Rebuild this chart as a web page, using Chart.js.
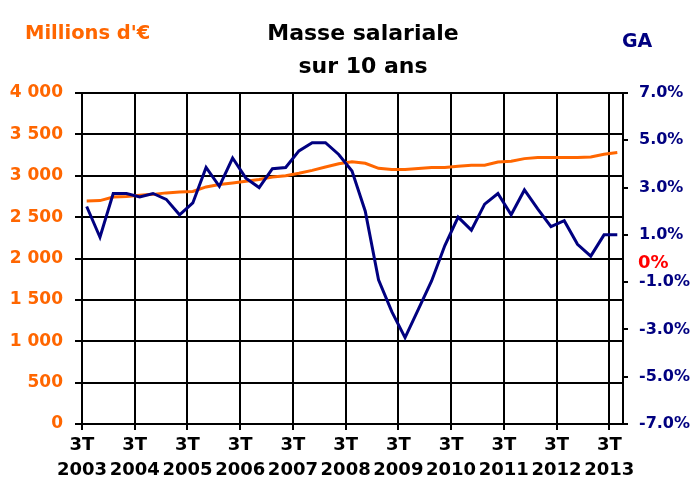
<!DOCTYPE html>
<html>
<head>
<meta charset="utf-8">
<script src="https://cdn.jsdelivr.net/npm/chart.js@4/dist/chart.umd.min.js"></script>
<style>
  html, body { margin: 0; padding: 0; background: #fff; }
  canvas { display: block; }
</style>
</head>
<body>
<canvas id="masseChart" width="696" height="482"></canvas>
<script>
// quarters from 3T 2003 to 3T 2013 (41 points)
const years = ['2003', '2004', '2005', '2006', '2007', '2008', '2009', '2010', '2011', '2012', '2013']
const quarterLabel = '3T'

// Masse salariale, millions d'€ (left axis)
const masseSalariale = [
    2696, 2700, 2744, 2750, 2765, 2775, 2793, 2805, 2810, 2865,
    2894, 2913, 2934, 2954, 2986, 3000, 3030, 3065, 3105, 3145,
    3170, 3150, 3090, 3075, 3075, 3087, 3099, 3099, 3115, 3127,
    3127, 3167, 3175, 3207, 3220, 3220, 3220, 3220, 3228, 3260,
    3280
]

// GA, glissement annuel in % (right axis)
const glissementAnnuel = [
    2.2, 0.9, 2.75, 2.75, 2.6, 2.75, 2.5, 1.85, 2.35, 3.85,
    3.05, 4.25, 3.4, 3.0, 3.8, 3.85, 4.55, 4.9, 4.9, 4.4,
    3.7, 2.0, -0.9, -2.25, -3.35, -2.15, -0.95, 0.55, 1.75, 1.2,
    2.3, 2.75, 1.85, 2.9, 2.1, 1.35, 1.6, 0.6, 0.1, 1.0,
    1.0
]

const leftTicks = [0, 500, 1000, 1500, 2000, 2500, 3000, 3500, 4000]
const rightTicks = [-7, -5, -3, -1, 1, 3, 5, 7]

const titleLines = ['Masse salariale', 'sur 10 ans']
const leftUnit = "Millions d'€"
const rightUnit = 'GA'
const zeroLabel = '0%'

const ORANGE = '#ff6600'
const NAVY = '#000080'
const FONT = '"DejaVu Sans", Verdana, sans-serif'

// year grid sits slightly left of the quarter points, like the original
const X_MIN = -0.354
const X_MAX = 40.43
const YEAR_STEP = 3.975

function thousands(v) {
    return String(v).replace(/\B(?=(\d{3})+(?!\d))/g, ' ')
}

const textPlugin = {
    id: 'chartTexts',
    afterDraw(chart) {
        const c = chart.ctx
        c.save()
        c.textBaseline = 'alphabetic'

        // title
        c.fillStyle = '#000'
        c.textAlign = 'center'
        c.font = 'bold 22px ' + FONT
        c.fillText(titleLines[0], 363, 40)
        c.fillText(titleLines[1], 363, 73)

        // axis units
        c.textAlign = 'left'
        c.fillStyle = ORANGE
        c.font = 'bold 19.5px ' + FONT
        c.fillText(leftUnit, 25, 39)

        c.fillStyle = NAVY
        c.font = 'bold 19px ' + FONT
        c.fillText(rightUnit, 622, 47)

        // red zero marker on the right
        c.fillStyle = '#ff0000'
        c.font = 'bold 18px ' + FONT
        c.fillText(zeroLabel, 638, 268)

        c.restore()
    }
}

const chart = new Chart(document.getElementById('masseChart'), {
    type: 'line',
    data: {
        datasets: [
            {
                label: rightUnit,
                data: glissementAnnuel.map((v, i) => ({ x: i, y: v })),
                yAxisID: 'y1',
                borderColor: NAVY,
                borderWidth: 3,
                pointRadius: 0,
                tension: 0
            },
            {
                label: leftUnit,
                data: masseSalariale.map((v, i) => ({ x: i, y: v })),
                yAxisID: 'y',
                borderColor: ORANGE,
                borderWidth: 3,
                pointRadius: 0,
                tension: 0
            }
        ]
    },
    options: {
        responsive: false,
        animation: false,
        devicePixelRatio: 1,
        layout: { padding: { top: 93, left: 0, right: 0, bottom: 0 } },
        plugins: {
            legend: { display: false },
            tooltip: { enabled: false }
        },
        scales: {
            x: {
                type: 'linear',
                min: X_MIN,
                max: X_MAX,
                afterBuildTicks: scale => {
                    scale.ticks = years.map((y, i) => ({ value: X_MIN + i * YEAR_STEP }))
                },
                afterFit: scale => { scale.height = 58 },
                grid: { color: '#000', lineWidth: 2, tickLength: 6 },
                border: { color: '#000', width: 2 },
                ticks: {
                    autoSkip: false,
                    maxRotation: 0,
                    padding: 3,
                    color: '#000',
                    font: { family: FONT, weight: 'bold', size: 18, lineHeight: 1.39 },
                    callback: (value, index) => [quarterLabel, years[index]]
                }
            },
            y: {
                position: 'left',
                min: 0,
                max: 4000,
                afterBuildTicks: scale => {
                    scale.ticks = leftTicks.map(v => ({ value: v }))
                },
                afterFit: scale => { scale.width = 82 },
                grid: { color: '#000', lineWidth: 2, tickLength: 7 },
                border: { color: '#000', width: 2 },
                ticks: {
                    padding: 12,
                    color: ORANGE,
                    font: { family: FONT, weight: 'bold', size: 17 },
                    callback: v => thousands(v)
                }
            },
            y1: {
                position: 'right',
                min: -7,
                max: 7,
                afterBuildTicks: scale => {
                    scale.ticks = rightTicks.map(v => ({ value: v }))
                },
                afterFit: scale => { scale.width = 73 },
                grid: { drawOnChartArea: false, color: '#000', lineWidth: 2, tickLength: 5 },
                border: { color: '#000', width: 2 },
                ticks: {
                    padding: 11,
                    color: NAVY,
                    font: { family: FONT, weight: 'bold', size: 16 },
                    callback: v => v.toFixed(1) + '%'
                }
            }
        }
    },
    plugins: [textPlugin]
})
</script>
</body>
</html>
